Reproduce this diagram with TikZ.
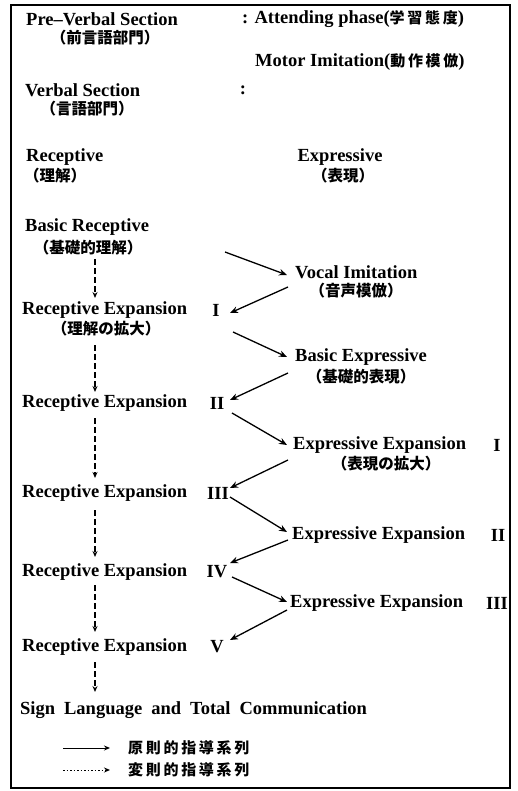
\documentclass[tikz,border=0pt]{standalone}
\usepackage{fontspec}
\setmainfont{Liberation Serif}
\newfontfamily\jp{Noto Sans CJK JP}
\newfontfamily\jpls{Noto Sans CJK JP}[LetterSpace=18]
\usetikzlibrary{arrows.meta}
\newcommand{\jpin}{\jpls\bfseries\fontsize{15}{17}\selectfont}
\begin{document}
\begin{tikzpicture}[x=1pt,y=-1pt,
  lat/.style={inner sep=0pt,font=\bfseries\fontsize{18.5}{20}\selectfont},
  jpt/.style={inner sep=0pt,font=\jp\bfseries\fontsize{15.5}{17}\selectfont},
  lgt/.style={inner sep=0pt,font=\jpls\bfseries\fontsize{15}{17}\selectfont},
  arr/.style={line width=1.3pt,-{Stealth[length=8pt,width=6.5pt]}},
  darr/.style={line width=1.1pt,dash pattern=on 6pt off 3pt,-{Stealth[length=6pt,width=5pt]}}]
\useasboundingbox (0,0) rectangle (518,791);
\draw[line width=2pt] (11,5) rectangle (510,788);
% header
\node[lat,anchor=west] (pv) at (26,19) {Pre--Verbal Section};
\node[jpt] (pvj) at (105,38) {（前言語部門）};
\node[lat,anchor=west] (att) at (242,19) {: Attending phase({\jpin 学習態度})};
\node[lat,anchor=west] (mot) at (255,62) {Motor Imitation({\jpin 動作模倣})};
\node[lat,anchor=west] (vs) at (25,90) {Verbal Section};
\node[jpt] (vsj) at (87,109) {（言語部門）};
\node[lat] (col) at (243,90) {:};
\node[lat,anchor=west] (rc) at (26,157) {Receptive};
\node[jpt] (rcj) at (55,176) {（理解）};
\node[lat] (ex) at (340,157) {Expressive};
\node[jpt] (exj) at (343,176) {（表現）};
% left column
\node[lat,anchor=west] (br) at (25,227) {Basic Receptive};
\node[jpt] (brj) at (88,248) {（基礎的理解）};
\node[lat,anchor=west] (re1) at (22,310) {Receptive Expansion};
\node[lat] (re1n) at (216,310) {I};
\node[jpt] (re1j) at (106,329) {（理解の拡大）};
\node[lat,anchor=west] (re2) at (22,403) {Receptive Expansion};
\node[lat] (re2n) at (217,403) {II};
\node[lat,anchor=west] (re3) at (22,493) {Receptive Expansion};
\node[lat] (re3n) at (218,493) {III};
\node[lat,anchor=west] (re4) at (22,572) {Receptive Expansion};
\node[lat] (re4n) at (217,572) {IV};
\node[lat,anchor=west] (re5) at (22,647) {Receptive Expansion};
\node[lat] (re5n) at (217,647) {V};
\node[lat,anchor=west] (sl) at (20,710) {\spaceskip=9pt plus 1pt Sign Language and Total Communication};
% right column
\node[lat,anchor=west] (vi) at (295,272) {Vocal Imitation};
\node[jpt] (vij) at (356,291) {（音声模倣）};
\node[lat,anchor=west] (be) at (295,357) {Basic Expressive};
\node[jpt] (bej) at (361,377) {（基礎的表現）};
\node[lat,anchor=west] (ee1) at (293,445) {Expressive Expansion};
\node[lat] (ee1n) at (497,445) {I};
\node[jpt] (ee1j) at (386,464) {（表現の拡大）};
\node[lat,anchor=west] (ee2) at (292,535) {Expressive Expansion};
\node[lat] (ee2n) at (498,535) {II};
\node[lat,anchor=west] (ee3) at (290,603) {Expressive Expansion};
\node[lat] (ee3n) at (497,603) {III};
% arrow end points
\coordinate (a1s) at (225,252); \coordinate (a1e) at (287,275);
\coordinate (a2s) at (288,287); \coordinate (a2e) at (230,313);
\coordinate (a3s) at (233,332); \coordinate (a3e) at (287,357);
\coordinate (a4s) at (288,373); \coordinate (a4e) at (230,400);
\coordinate (a5s) at (232,413); \coordinate (a5e) at (287,445);
\coordinate (a6s) at (288,460); \coordinate (a6e) at (230,488);
\coordinate (a7s) at (230,497); \coordinate (a7e) at (287,532);
\coordinate (a8s) at (288,540); \coordinate (a8e) at (230,563);
\coordinate (a9s) at (232,577); \coordinate (a9e) at (287,602);
\coordinate (a10s) at (287,610); \coordinate (a10e) at (230,640);
\foreach \i in {1,...,10} {\draw[arr] (a\i s) -- (a\i e);}
% dashed verticals
\coordinate (d1s) at (95,259); \coordinate (d1e) at (95,298);
\coordinate (d2s) at (95,345); \coordinate (d2e) at (95,392);
\coordinate (d3s) at (95,418); \coordinate (d3e) at (95,478);
\coordinate (d4s) at (95,510); \coordinate (d4e) at (95,557);
\coordinate (d5s) at (95,585); \coordinate (d5e) at (95,632);
\coordinate (d6s) at (95,662); \coordinate (d6e) at (95,692);
\foreach \i in {1,...,6} {\draw[darr] (d\i s) -- (d\i e);}
% legend
\node[lgt,anchor=west] (l1) at (128,748) {原則的指導系列};
\node[lgt,anchor=west] (l2) at (128,770) {変則的指導系列};
\coordinate (l1s) at (63,748); \coordinate (l1e) at (110,748);
\coordinate (l2s) at (63,770); \coordinate (l2e) at (110,770);
\draw[line width=1pt,-{Stealth[length=6pt,width=5pt]}] (l1s) -- (l1e);
\draw[line width=1pt,dash pattern=on 1.5pt off 2pt,-{Stealth[length=6pt,width=5pt]}] (l2s) -- (l2e);
\end{tikzpicture}
\end{document}
